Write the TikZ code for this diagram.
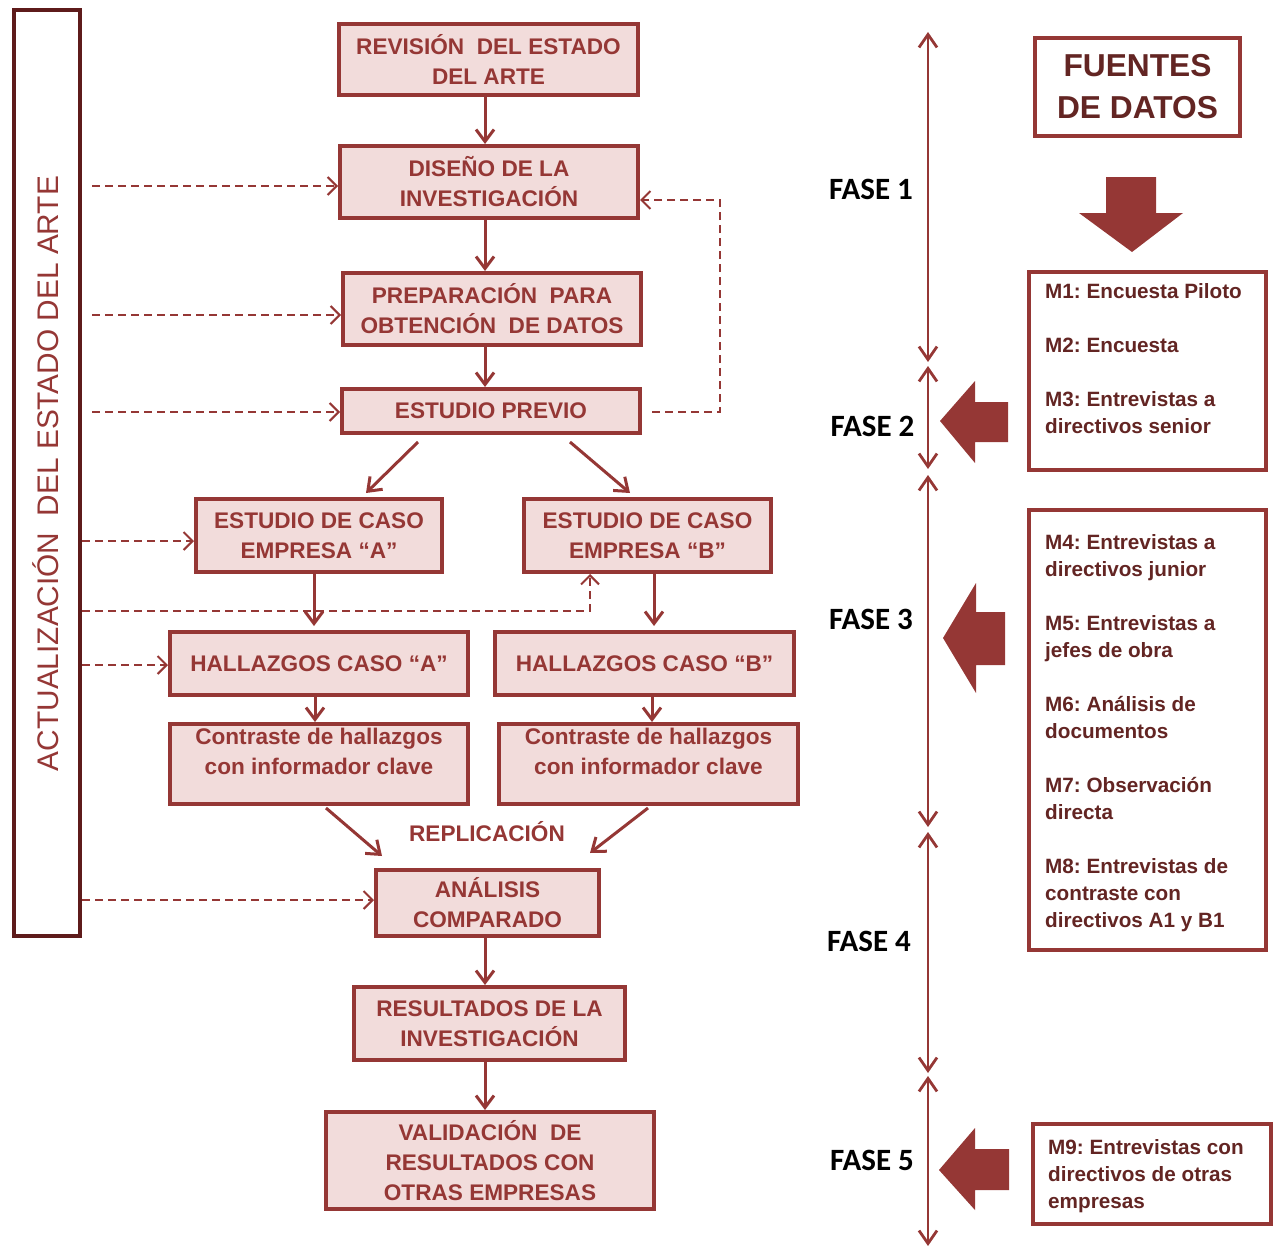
\documentclass[tikz,border=0pt]{standalone}
\usepackage{fontspec}
\setmainfont{Liberation Sans}
\newfontfamily\phasefont{Carlito}
\usetikzlibrary{arrows.meta,calc}
\definecolor{cRed}{HTML}{953735}
\definecolor{cPink}{HTML}{F2DCDB}
\definecolor{cDark}{HTML}{632523}
\definecolor{cFrame}{HTML}{5E1B1B}
\frenchspacing

\begin{document}
\begin{tikzpicture}[x=1pt,y=-1pt,
  stepbox/.style={draw=cRed, fill=cPink, line width=4pt, text=cRed,
    font=\bfseries\fontsize{22.6}{30}\selectfont, align=center, inner sep=0pt},
  steptext/.style={text=cRed, font=\bfseries\fontsize{22.6}{30}\selectfont,
    align=center, inner sep=0pt},
  srcbox/.style={draw=cRed, fill=white, line width=4pt, inner sep=0pt},
  mtext/.style={text=cDark, font=\bfseries\fontsize{20.7}{27}\selectfont,
    align=left, anchor=north west, inner sep=0pt},
  phaselabel/.style={text=black, font=\phasefont\bfseries\fontsize{31}{36}\selectfont,
    inner sep=0pt},
  arr/.style={draw=cRed, line width=3pt, -{Straight Barb[length=12pt,width=18pt]}},
  dasharrow/.style={draw=cRed, line width=2pt, dash pattern=on 8pt off 5pt,
    -{Straight Barb[length=9pt,width=18pt]}},
  phase/.style={draw=cRed, line width=2.8pt,
    {Straight Barb[length=13pt,width=18pt]}-{Straight Barb[length=13pt,width=18pt]}},
  bigarrow/.style={fill=cRed}
]
\useasboundingbox (0,0) rectangle (1278,1247);

% side frame: continuous update of the state of the art
\node[draw=cFrame, line width=4.5pt, fill=white, minimum width=66pt, minimum height=926pt, inner sep=0pt]
  (lbox) at (47,473) {};
\node[rotate=90, anchor=base, text=cRed, font=\fontsize{29.8}{36}\selectfont, inner sep=0pt]
  (ltext) at (58,473.5) {ACTUALIZACIÓN\ \ DEL ESTADO DEL ARTE};

% main research process
\node[stepbox, minimum width=299pt, minimum height=71pt] (rev) at (488.5,59.5)
  {REVISIÓN\ \ DEL ESTADO\\DEL ARTE};
\node[stepbox, minimum width=298pt, minimum height=72pt] (dis) at (489,182)
  {DISEÑO DE LA\\INVESTIGACIÓN};
\node[stepbox, minimum width=298pt, minimum height=72pt] (prep) at (492,309)
  {PREPARACIÓN\ \ PARA\\OBTENCIÓN\ \ DE DATOS};
\node[stepbox, minimum width=298pt, minimum height=44pt] (prev) at (491,411)
  {ESTUDIO PREVIO};
\node[stepbox, minimum width=246pt, minimum height=73pt] (casoA) at (319,535.5)
  {ESTUDIO DE CASO\\EMPRESA “A”};
\node[stepbox, minimum width=247pt, minimum height=73pt] (casoB) at (647.5,535.5)
  {ESTUDIO DE CASO\\EMPRESA “B”};
\node[stepbox, minimum width=298pt, minimum height=63pt] (hallA) at (319,663.5)
  {HALLAZGOS CASO “A”};
\node[stepbox, minimum width=299pt, minimum height=63pt] (hallB) at (644.5,663.5)
  {HALLAZGOS CASO “B”};
\node[stepbox, minimum width=298pt, minimum height=80pt] (contA) at (319,764) {};
\node[stepbox, minimum width=299pt, minimum height=80pt] (contB) at (648.5,764) {};
\node[steptext] (contAtext) at (319,751) {Contraste de hallazgos\\con informador clave};
\node[steptext] (contBtext) at (648.5,751) {Contraste de hallazgos\\con informador clave};
\node[stepbox, minimum width=223pt, minimum height=66pt] (anal) at (487.5,903)
  {ANÁLISIS\\COMPARADO};
\node[stepbox, minimum width=271pt, minimum height=73pt] (res) at (489.5,1023.5)
  {RESULTADOS DE LA\\INVESTIGACIÓN};
\node[stepbox, minimum width=328pt, minimum height=97pt] (val) at (490,1160.5)
  {VALIDACIÓN\ \ DE\\RESULTADOS CON\\OTRAS EMPRESAS};
\node[steptext, anchor=base] (repl) at (487,841) {REPLICACIÓN};

% process flow
\draw[arr] (rev.south -| 485,0) -- (dis.north -| 485,0);
\draw[arr] (dis.south -| 485,0) -- (prep.north -| 485,0);
\draw[arr] (prep.south -| 485,0) -- (prev.north -| 485,0);
\draw[arr] ($(prev.south)+(-73,7)$) -- ($(casoA.north)+(47,-4)$);
\draw[arr] ($(prev.south)+(79,7)$) -- ($(casoB.north)+(-17.5,-4)$);
\draw[arr, shorten >=4pt] (casoA.south -| 314,0) -- (hallA.north -| 314,0);
\draw[arr, shorten >=4pt] (casoB.south -| 654,0) -- (hallB.north -| 654,0);
\draw[arr] (hallA.south -| 315,0) -- (contA.north -| 315,0);
\draw[arr] (hallB.south -| 652,0) -- (contB.north -| 652,0);
\draw[arr] ($(contA.south)+(7,2)$) -- ($(anal.north)+(-105.5,-12)$);
\draw[arr] ($(contB.south)+(-0.5,2)$) -- ($(anal.north)+(102.5,-15)$);
\draw[arr] (anal.south -| 485,0) -- (res.north -| 485,0);
\draw[arr] (res.south -| 485,0) -- (val.north -| 485,0);

% literature updates feeding each step
\draw[dasharrow, shorten <=10pt] (lbox.east |- 0,186) -- (dis.west |- 0,186);
\draw[dasharrow, shorten <=10pt] (lbox.east |- 0,315) -- (prep.west |- 0,315);
\draw[dasharrow, shorten <=10pt] (lbox.east |- 0,412) -- (prev.west |- 0,412);
\draw[dasharrow] (lbox.east |- 0,541) -- (casoA.west |- 0,541);
\draw[dasharrow] (lbox.east |- 0,611) -| ($(casoB.south)+(-57.5,0)$);
\draw[dasharrow] (lbox.east |- 0,665) -- (hallA.west |- 0,665);
\draw[dasharrow] (lbox.east |- 0,900) -- (anal.west |- 0,900);
% feedback from the pilot study to the design
\draw[dasharrow, shorten <=10pt] (prev.east |- 0,412) -- ++(78,0) |- (dis.east |- 0,200);

% phase axis
\coordinate (f0) at (928,32);
\coordinate (f1a) at (928,362);
\coordinate (f1b) at (928,366);
\coordinate (f2a) at (928,469);
\coordinate (f2b) at (928,475);
\coordinate (f3a) at (928,827);
\coordinate (f3b) at (928,832);
\coordinate (f4a) at (928,1073);
\coordinate (f4b) at (928,1076);
\coordinate (f5) at (928,1246);
\draw[phase] (f0) -- (f1a);
\draw[phase] (f1b) -- (f2a);
\draw[phase] (f2b) -- (f3a);
\draw[phase] (f3b) -- (f4a);
\draw[phase] (f4b) -- (f5);
\node[phaselabel] (fase1) at (871,189) {FASE 1};
\node[phaselabel] (fase2) at (872.5,426) {FASE 2};
\node[phaselabel] (fase3) at (871,619) {FASE 3};
\node[phaselabel] (fase4) at (869,941.5) {FASE 4};
\node[phaselabel] (fase5) at (872,1160) {FASE 5};

% data sources
\node[srcbox, minimum width=205pt, minimum height=98pt, text=cDark, align=center,
  font=\bfseries\fontsize{31.7}{42}\selectfont] (fuentes) at (1137.5,87) {FUENTES\\DE DATOS};
\fill[bigarrow] (1106,177) -- (1156,177) -- (1156,213) -- (1183,213) -- (1132,252)
  -- (1079,213) -- (1106,213) -- cycle;

\node[srcbox, minimum width=237pt, minimum height=198pt] (m13) at (1147.5,371) {};
\node[mtext] (m13text) at (1045,283.5)
  {M1: Encuesta Piloto\\[27pt]M2: Encuesta\\[27pt]M3: Entrevistas a\\directivos senior};

\node[srcbox, minimum width=237pt, minimum height=440pt] (m48) at (1147.5,730) {};
\node[mtext] (m48text) at (1045,534.5)
  {M4: Entrevistas a\\directivos junior\\[27pt]M5: Entrevistas a\\jefes de obra\\[27pt]%
   M6: Análisis de\\documentos\\[27pt]M7: Observación\\directa\\[27pt]%
   M8: Entrevistas de\\contraste con\\directivos A1 y B1};

\node[srcbox, minimum width=238pt, minimum height=100pt] (m9) at (1152,1174) {};
\node[mtext] (m9text) at (1048,1139.5)
  {M9: Entrevistas con\\directivos de otras\\empresas};

% block arrows pointing to the phases
\fill[bigarrow] (940,421) -- (975,381) -- (975,402) -- (1008,402) -- (1008,442)
  -- (975,442) -- (975,463) -- cycle;
\fill[bigarrow] (943,638) -- (976,583) -- (976,612) -- (1005,612) -- (1005,665)
  -- (976,665) -- (976,693) -- cycle;
\fill[bigarrow] (939,1170) -- (975,1128) -- (975,1149) -- (1009,1149) -- (1009,1190)
  -- (975,1190) -- (975,1210) -- cycle;
\end{tikzpicture}
\end{document}
